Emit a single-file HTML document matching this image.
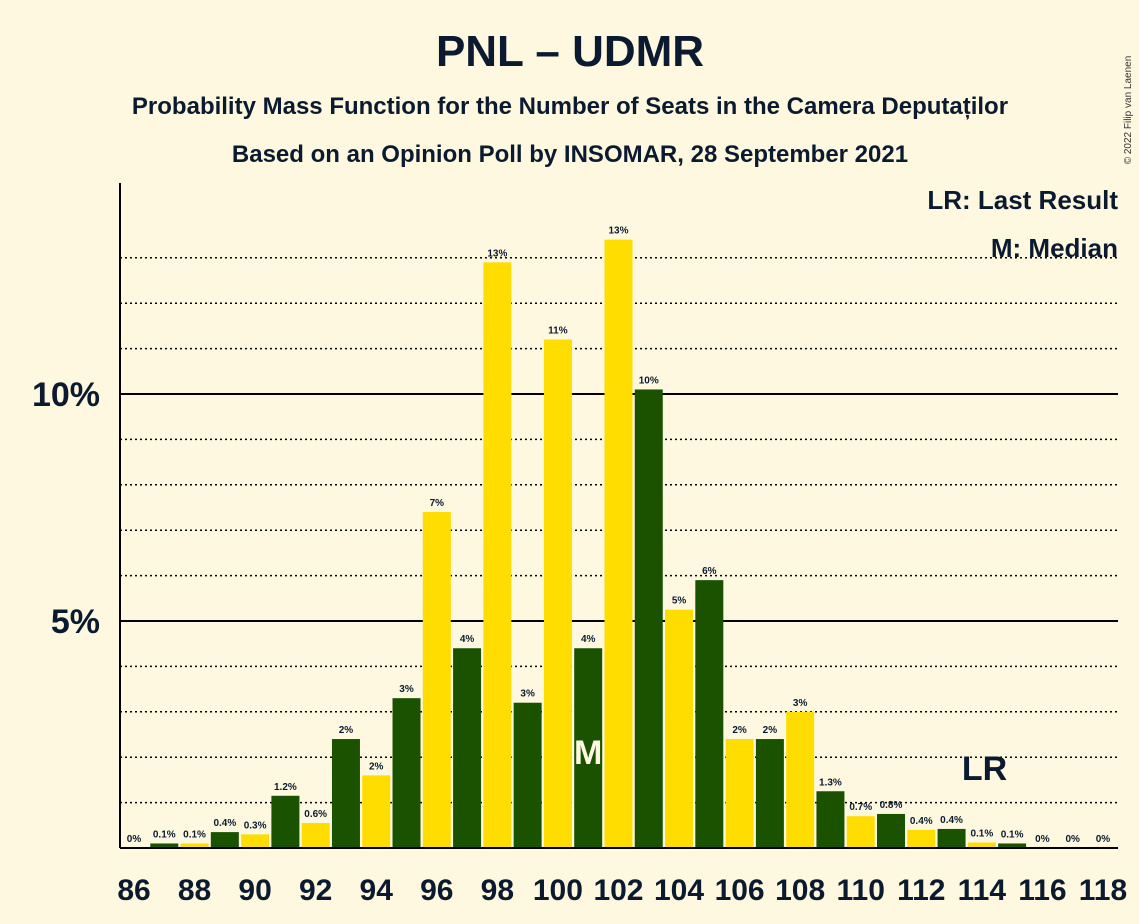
<!DOCTYPE html>
<html><head><meta charset="utf-8"><style>
body{margin:0;background:#fff8e1;font-family:"Liberation Sans",sans-serif;}
svg{display:block}
</style></head><body>
<svg id="chart" width="1139" height="924">
<rect width="1139" height="924" fill="#fff8e1"/>
<text x="570" y="66" text-anchor="middle" font-size="44" font-weight="bold" fill="#0b1a2e">PNL – UDMR</text>
<text x="570" y="114" text-anchor="middle" font-size="24" font-weight="bold" fill="#0b1a2e">Probability Mass Function for the Number of Seats in the Camera Deputaților</text>
<text x="570" y="162" text-anchor="middle" font-size="24" font-weight="bold" fill="#0b1a2e">Based on an Opinion Poll by INSOMAR, 28 September 2021</text>
<text x="1131" y="110" font-size="10" fill="#333" transform="rotate(-90 1131 110)" text-anchor="middle">© 2022 Filip van Laenen</text>
<g id="grid"></g>
<g id="bars"></g>
<g id="labels"></g>
<text x="1118" y="209" text-anchor="end" font-size="26" font-weight="bold" fill="#0b1a2e">LR: Last Result</text>
<text x="1118" y="257" text-anchor="end" font-size="26" font-weight="bold" fill="#0b1a2e">M: Median</text>
</svg>
<script>
const seats=[86,87,88,89,90,91,92,93,94,95,96,97,98,99,100,101,102,103,104,105,106,107,108,109,110,111,112,113,114,115,116,117,118];
const probs=[0,0.1,0.1,0.35,0.3,1.15,0.55,2.4,1.6,3.3,7.4,4.4,12.9,3.2,11.2,4.4,13.4,10.1,5.25,5.9,2.4,2.4,3.0,1.25,0.7,0.75,0.4,0.42,0.12,0.1,0,0,0];
const barLabels=["0%","0.1%","0.1%","0.4%","0.3%","1.2%","0.6%","2%","2%","3%","7%","4%","13%","3%","11%","4%","13%","10%","5%","6%","2%","2%","3%","1.3%","0.7%","0.8%","0.4%","0.4%","0.1%","0.1%","0%","0%","0%"];
const yTicks=[5,10];
const medianSeat=101, lastResultSeat=114;
const NS="http://www.w3.org/2000/svg";
const x0=120,x1=1118,yB=848,pxPer=45.4;
const xs=s=>134+(s-86)*30.28;
const ys=v=>yB-v*pxPer;
function mk(t,a,p){const e=document.createElementNS(NS,t);for(const k in a)e.setAttribute(k,a[k]);p.appendChild(e);return e;}
const grid=document.getElementById('grid'),bars=document.getElementById('bars'),labs=document.getElementById('labels');
for(let v=1;v<=13;v++){
  const solid=yTicks.includes(v);
  const l=mk('line',{x1:x0,x2:x1,y1:ys(v),y2:ys(v),stroke:'#000','stroke-width':solid?2:1.5,'stroke-dasharray':solid?'':'2,3'},grid);
  
  
}
yTicks.forEach(v=>{
  const t=mk('text',{x:100,y:ys(v)+12,'text-anchor':'end','font-size':34,'font-weight':'bold',fill:'#0b1a2e'},labs);
  t.textContent=v+'%';
  
  
});
seats.forEach((s,i)=>{
  const v=probs[i];
  const r=mk('rect',{x:xs(s)-14,y:ys(v),width:28,height:v*pxPer,fill:s%2?'#1a5200':'#ffdd00'},bars);
  
  
  const t=mk('text',{x:xs(s),y:ys(v)-6,'text-anchor':'middle','font-size':10,'font-weight':'bold',fill:'#0b1a2e'},labs);
  t.textContent=barLabels[i];
  
  
  if(s%2===0){
    const xl=mk('text',{x:xs(s),y:900,'text-anchor':'middle','font-size':30,'font-weight':'bold',fill:'#0b1a2e'},labs);
    xl.textContent=s;
    
    
  }
});
const m=mk('text',{x:xs(medianSeat),y:764,'text-anchor':'middle','font-size':34,'font-weight':'bold',fill:'#fff8e1'},labs);
m.textContent='M';


const lr=mk('text',{x:xs(lastResultSeat)-20,y:780,'font-size':34,'font-weight':'bold',fill:'#0b1a2e'},labs);
lr.textContent='LR';


const ax=mk('line',{x1:x0,x2:x0,y1:183,y2:yB,stroke:'#000','stroke-width':2},labs);


const bx=mk('line',{x1:x0,x2:x1,y1:yB,y2:yB,stroke:'#000','stroke-width':2},labs);


</script>
</body></html>
